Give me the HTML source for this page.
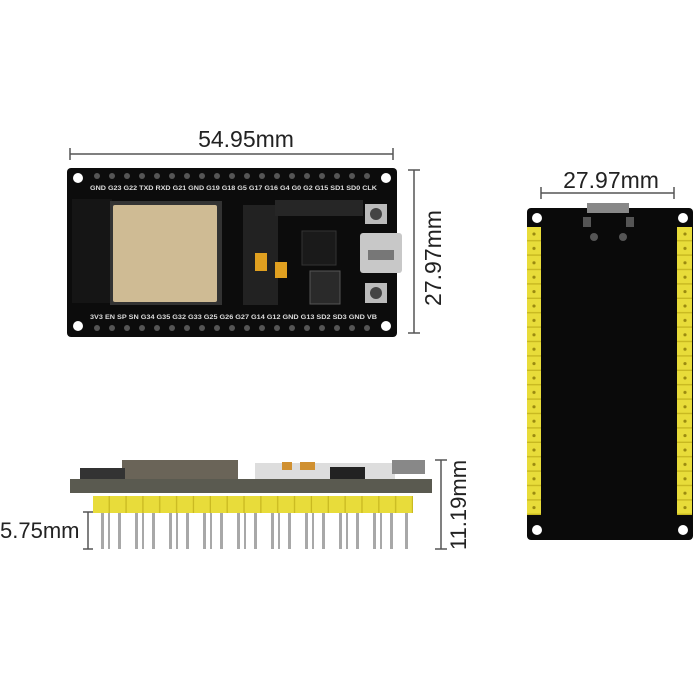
<!DOCTYPE html>
<html><head><meta charset="utf-8"><style>
html,body{margin:0;padding:0;background:#fff;width:700px;height:700px;overflow:hidden}
svg{display:block}
text{font-family:"Liberation Sans",sans-serif}
</style></head><body>
<svg width="700" height="700" viewBox="0 0 700 700" xmlns="http://www.w3.org/2000/svg">
<defs>
<pattern id="hdr" x="527" y="227" width="14" height="14.4" patternUnits="userSpaceOnUse">
<rect width="14" height="14.4" fill="#e8dc3a"/>
<rect y="13" width="14" height="1.4" fill="#c8b820"/>
<circle cx="7" cy="7" r="1.6" fill="#9a8a10"/>
</pattern>
<pattern id="hdr2" x="677" y="227" width="15" height="14.4" patternUnits="userSpaceOnUse">
<rect width="15" height="14.4" fill="#e8dc3a"/>
<rect y="13" width="15" height="1.4" fill="#c8b820"/>
<circle cx="8" cy="7" r="1.6" fill="#9a8a10"/>
</pattern>
<pattern id="shdr" x="93" y="0" width="16.85" height="20" patternUnits="userSpaceOnUse">
<rect width="16.85" height="20" fill="#e8dc3a"/>
<rect x="15.6" width="1.25" height="20" fill="#c8b820"/>
</pattern>
</defs>
<g stroke="#555" stroke-width="1.5">
<line x1="70" y1="154" x2="393" y2="154"/><line x1="70" y1="148" x2="70" y2="160"/><line x1="393" y1="148" x2="393" y2="160"/>
<line x1="414" y1="170" x2="414" y2="333"/><line x1="408" y1="170" x2="420" y2="170"/><line x1="408" y1="333" x2="420" y2="333"/>
<line x1="541" y1="193" x2="674" y2="193"/><line x1="541" y1="187" x2="541" y2="199"/><line x1="674" y1="187" x2="674" y2="199"/>
<line x1="441" y1="460" x2="441" y2="549"/><line x1="435" y1="460" x2="447" y2="460"/><line x1="435" y1="549" x2="447" y2="549"/>
<line x1="88" y1="512" x2="88" y2="549"/><line x1="83" y1="512" x2="93" y2="512"/><line x1="83" y1="549" x2="93" y2="549"/>
</g>
<text x="246" y="147" font-size="23" text-anchor="middle" fill="#222">54.95mm</text>
<text transform="translate(441,258) rotate(-90)" font-size="23" text-anchor="middle" fill="#222">27.97mm</text>
<text x="611" y="188" font-size="23" text-anchor="middle" fill="#222">27.97mm</text>
<text transform="translate(466,505) rotate(-90)" font-size="22" text-anchor="middle" fill="#222">11.19mm</text>
<text x="0" y="538" font-size="22" fill="#222">5.75mm</text>

<rect x="67" y="168" width="330" height="169" rx="4" fill="#0c0c0c"/>
<circle cx="78" cy="178" r="5" fill="#fff"/><circle cx="386" cy="178" r="5" fill="#fff"/>
<circle cx="78" cy="326" r="5" fill="#fff"/><circle cx="386" cy="326" r="5" fill="#fff"/>
<g fill="#555">
<circle cx="97" cy="176" r="3"/><circle cx="112" cy="176" r="3"/><circle cx="127" cy="176" r="3"/><circle cx="142" cy="176" r="3"/><circle cx="157" cy="176" r="3"/><circle cx="172" cy="176" r="3"/><circle cx="187" cy="176" r="3"/><circle cx="202" cy="176" r="3"/><circle cx="217" cy="176" r="3"/><circle cx="232" cy="176" r="3"/><circle cx="247" cy="176" r="3"/><circle cx="262" cy="176" r="3"/><circle cx="277" cy="176" r="3"/><circle cx="292" cy="176" r="3"/><circle cx="307" cy="176" r="3"/><circle cx="322" cy="176" r="3"/><circle cx="337" cy="176" r="3"/><circle cx="352" cy="176" r="3"/><circle cx="367" cy="176" r="3"/>
<circle cx="97" cy="328" r="3"/><circle cx="112" cy="328" r="3"/><circle cx="127" cy="328" r="3"/><circle cx="142" cy="328" r="3"/><circle cx="157" cy="328" r="3"/><circle cx="172" cy="328" r="3"/><circle cx="187" cy="328" r="3"/><circle cx="202" cy="328" r="3"/><circle cx="217" cy="328" r="3"/><circle cx="232" cy="328" r="3"/><circle cx="247" cy="328" r="3"/><circle cx="262" cy="328" r="3"/><circle cx="277" cy="328" r="3"/><circle cx="292" cy="328" r="3"/><circle cx="307" cy="328" r="3"/><circle cx="322" cy="328" r="3"/><circle cx="337" cy="328" r="3"/><circle cx="352" cy="328" r="3"/><circle cx="367" cy="328" r="3"/>
</g>
<text x="90" y="190" font-size="6.5" font-weight="bold" fill="#ddd" textLength="287" lengthAdjust="spacingAndGlyphs">GND G23 G22 TXD RXD G21 GND G19 G18 G5 G17 G16 G4 G0 G2 G15 SD1 SD0 CLK</text>
<text x="90" y="319" font-size="6.5" font-weight="bold" fill="#ddd" textLength="287" lengthAdjust="spacingAndGlyphs">3V3 EN SP SN G34 G35 G32 G33 G25 G26 G27 G14 G12 GND G13 SD2 SD3 GND VB</text>
<rect x="72" y="199" width="40" height="104" fill="#151515"/>
<rect x="110" y="201" width="112" height="104" fill="#333"/>
<rect x="113" y="205" width="104" height="97" rx="2" fill="#cfbb94"/>
<rect x="243" y="205" width="35" height="100" fill="#222"/>
<rect x="255" y="253" width="12" height="18" fill="#e0a020"/><rect x="275" y="262" width="12" height="16" fill="#e0a020"/>
<rect x="302" y="231" width="34" height="34" fill="#1a1a1a" stroke="#333"/>
<rect x="310" y="271" width="30" height="33" fill="#2a2a2a" stroke="#555"/>
<rect x="275" y="200" width="88" height="16" fill="#262626"/>
<rect x="365" y="204" width="22" height="20" fill="#bbb"/><circle cx="376" cy="214" r="6" fill="#444"/>
<rect x="365" y="283" width="22" height="20" fill="#bbb"/><circle cx="376" cy="293" r="6" fill="#444"/>
<rect x="360" y="233" width="42" height="40" rx="3" fill="#c8c8c8"/><rect x="368" y="250" width="26" height="10" fill="#777"/>

<rect x="527" y="208" width="166" height="332" rx="4" fill="#0a0a0a"/>
<circle cx="537" cy="218" r="5" fill="#fff"/><circle cx="683" cy="218" r="5" fill="#fff"/>
<circle cx="537" cy="530" r="5" fill="#fff"/><circle cx="683" cy="530" r="5" fill="#fff"/>
<rect x="527" y="227" width="14" height="288" fill="url(#hdr)"/>
<rect x="677" y="227" width="15" height="288" fill="url(#hdr2)"/>
<rect x="587" y="203" width="42" height="10" fill="#888"/>
<rect x="583" y="217" width="8" height="10" fill="#555"/><rect x="626" y="217" width="8" height="10" fill="#555"/>
<circle cx="594" cy="237" r="4" fill="#555"/><circle cx="623" cy="237" r="4" fill="#555"/>

<rect x="122" y="460" width="116" height="20" fill="#6a6458"/>
<rect x="80" y="468" width="45" height="14" fill="#333"/>
<rect x="255" y="463" width="140" height="19" fill="#ddd"/>
<rect x="282" y="462" width="10" height="8" fill="#d09030"/><rect x="300" y="462" width="15" height="8" fill="#d09030"/>
<rect x="330" y="467" width="35" height="12" fill="#222"/>
<rect x="392" y="460" width="33" height="14" fill="#888"/>
<rect x="70" y="479" width="362" height="14" fill="#5a5a50"/>
<rect x="93" y="496" width="320" height="17" fill="url(#shdr)"/>
<g fill="#a8a8a8">
<rect x="101" y="513" width="3" height="36"/><rect x="118" y="513" width="3" height="36"/><rect x="135" y="513" width="3" height="36"/><rect x="152" y="513" width="3" height="36"/><rect x="169" y="513" width="3" height="36"/><rect x="186" y="513" width="3" height="36"/><rect x="203" y="513" width="3" height="36"/><rect x="220" y="513" width="3" height="36"/><rect x="237" y="513" width="3" height="36"/><rect x="254" y="513" width="3" height="36"/><rect x="271" y="513" width="3" height="36"/><rect x="288" y="513" width="3" height="36"/><rect x="305" y="513" width="3" height="36"/><rect x="322" y="513" width="3" height="36"/><rect x="339" y="513" width="3" height="36"/><rect x="356" y="513" width="3" height="36"/><rect x="373" y="513" width="3" height="36"/><rect x="390" y="513" width="3" height="36"/><rect x="405" y="513" width="3" height="36"/>
<rect x="108" y="513" width="2" height="36"/><rect x="142" y="513" width="2" height="36"/><rect x="176" y="513" width="2" height="36"/><rect x="210" y="513" width="2" height="36"/><rect x="244" y="513" width="2" height="36"/><rect x="278" y="513" width="2" height="36"/><rect x="312" y="513" width="2" height="36"/><rect x="346" y="513" width="2" height="36"/><rect x="380" y="513" width="2" height="36"/>
</g>
</svg>
</body></html>
